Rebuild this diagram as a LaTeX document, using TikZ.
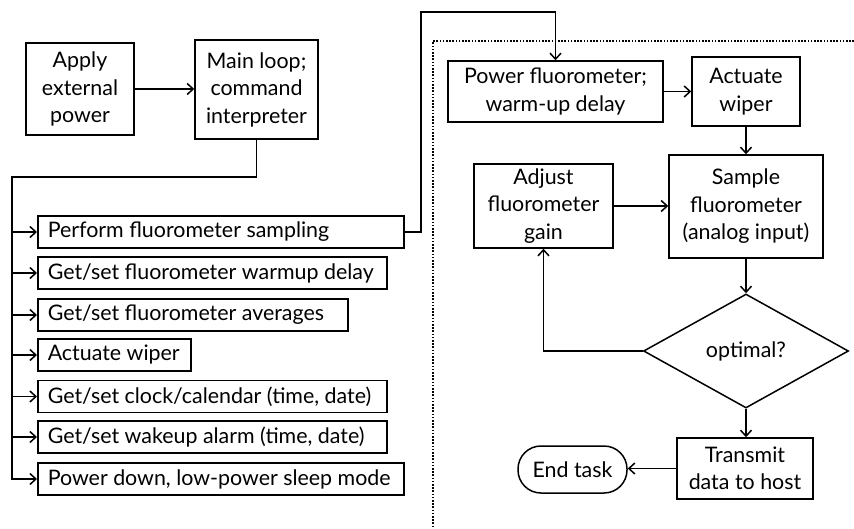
\documentclass[tikz,border=0pt]{standalone}
\usepackage{fontspec}
\setmainfont{Lato}
\usetikzlibrary{arrows.meta,shapes.geometric}
\newcommand{\lbtext}[2]{\makebox[#1][l]{#2}}
\begin{document}
\begin{tikzpicture}[x=1pt,y=-1pt,
  every node/.style={font=\fontsize{21.4}{27.5}\selectfont},
  box/.style={draw, line width=1.5pt, align=center, inner sep=0pt},
  listbox/.style={draw, line width=1.5pt, anchor=west, minimum height=32pt, inner xsep=10pt, inner ysep=0pt},
  conn/.style={line width=1.5pt},
  arr/.style={conn, -{Straight Barb[length=6pt,width=11pt,line width=1.5pt]}},
]
\useasboundingbox (0,0) rectangle (854,528);
\fill[white] (0,0) rectangle (854,528);

\node[box, minimum width=108pt, minimum height=92pt] (apply) at (80,89) {Apply\\external\\power};
\node[box, minimum width=123pt, minimum height=99pt] (main) at (256.5,89.5) {Main loop;\\command\\interpreter};

\node[listbox] (l1) at (37,232) {\lbtext{346pt}{Perform fluorometer sampling}};
\node[listbox] (l2) at (37,273) {\lbtext{329pt}{Get/set fluorometer warmup delay}};
\node[listbox] (l3) at (37,315) {\lbtext{290pt}{Get/set fluorometer averages}};
\node[listbox] (l4) at (37,355) {\lbtext{133pt}{Actuate wiper}};
\node[listbox] (l5) at (37,396.5) {\lbtext{329pt}{Get/set clock/calendar (time, date)}};
\node[listbox] (l6) at (37,437) {\lbtext{329pt}{Get/set wakeup alarm (time, date)}};
\node[listbox] (l7) at (37,479) {\lbtext{346pt}{Power down, low-power sleep mode}};

\node[box, minimum width=215pt, minimum height=61pt] (power) at (555.5,91.5) {Power fluorometer;\\warm-up delay};
\node[box, minimum width=108pt, minimum height=69pt] (actw) at (746,91.5) {Actuate\\wiper};
\node[box, minimum width=154pt, minimum height=103pt] (sample) at (746,206.5) {Sample\\fluorometer\\(analog input)};
\node[box, minimum width=139pt, minimum height=84pt] (adjust) at (543.5,206) {Adjust\\fluorometer\\gain};
\node[draw, line width=1.5pt, shape=diamond, minimum width=205pt, minimum height=114pt, inner sep=0pt] (dia) at (746,351) {optimal?};
\node[box, minimum width=136pt, minimum height=61pt] (trans) at (745,468.5) {Transmit\\data to host};
\node[box, minimum width=109pt, minimum height=47pt, rounded corners=23pt] (endt) at (572.5,469.5) {End task};

% dotted frame
\coordinate (dtr) at (854,41);
\coordinate (dtl) at (433,41);
\coordinate (dbl) at (433,528);
\draw[line width=2pt, dash pattern=on 1.6pt off 1.6pt] (dtr) -- (dtl) -- (dbl);

% connectors
\draw[arr] (apply.east) -- (apply.east -| main.west);
\coordinate (bustop) at (12,177);
\draw[arr] (main.south) |- (bustop) |- (l7.west);
\foreach \n in {l1,l2,l3,l4,l5,l6}{
  \draw[arr] (\n.west -| bustop) -- (\n.west);
}
\coordinate (r1) at (421,232);
\coordinate (r2) at (421,12);
\draw[arr] (l1.east) -- (r1) -- (r2) -| (power.north);
\draw[arr] (power.east) -- (power.east -| actw.west);
\draw[arr] (actw.south) -- (sample.north);
\draw[arr] (adjust.east) -- (adjust.east -| sample.west);
\draw[arr] (sample.south) -- (dia.north);
\draw[arr] (dia.west) -| (adjust.south);
\draw[arr] (dia.south) -- (dia.south |- trans.north);
\draw[arr] (trans.west) -- (trans.west -| endt.east);
\end{tikzpicture}
\end{document}
